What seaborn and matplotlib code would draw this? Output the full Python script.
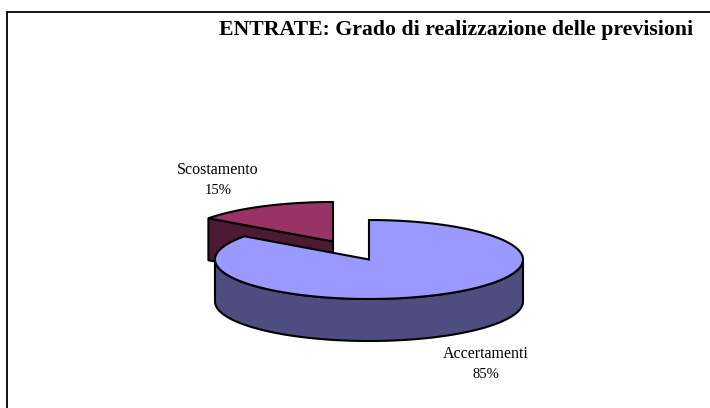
import numpy as np
import matplotlib
matplotlib.use("Agg")
import matplotlib.pyplot as plt
from matplotlib.patches import Polygon
import seaborn as sns

labels = ["Accertamenti", "Scostamento"]
shares = [85, 15]
title = "ENTRATE: Grado di realizzazione delle previsioni"

top_colors = ["#9999FF", "#993366"]
side_colors = ["#4D4D80", "#4D1A33"]

sns.set_style("white")
plt.rcParams["font.family"] = ["Liberation Serif", "DejaVu Serif"]

A, B, DEPTH = 154, 39.5, 42
CX, CY = 369, 259.5
OFFX, OFFY = -36, -18


def rim(t, cx, cy):
    # t in radians, clockwise from 12 o'clock
    return np.column_stack([cx + A * np.sin(t), cy - B * np.cos(t)])


fig = plt.figure(figsize=(7.10, 4.08), dpi=100)
ax = fig.add_axes([0, 0, 1, 1])
ax.set_xlim(0, 710)
ax.set_ylim(408, 0)
ax.axis("off")

split = 2 * np.pi * shares[0] / sum(shares)

# small slice, pulled out
sx, sy = CX + OFFX, CY + OFFY
t2 = np.linspace(split, 2 * np.pi, 80)
edge = rim(t2, sx, sy)
wall = np.array([edge[0], [sx, sy], [sx, sy + DEPTH], edge[0] + [0, DEPTH]])
ax.add_patch(Polygon(wall, fc=side_colors[1], ec="black", lw=1.5, joinstyle="round"))
ax.add_patch(Polygon(np.vstack([[[sx, sy]], edge]), fc=top_colors[1], ec="black", lw=1.5))

# big slice side wall, only the front half shows
t1 = np.linspace(np.pi / 2, 3 * np.pi / 2, 120)
front = rim(t1, CX, CY)
side = np.vstack([front, (front + [0, DEPTH])[::-1]])
ax.add_patch(Polygon(side, fc=side_colors[0], ec="black", lw=1.5))

t1 = np.linspace(0, split, 200)
ax.add_patch(Polygon(np.vstack([[[CX, CY]], rim(t1, CX, CY)]), fc=top_colors[0], ec="black", lw=1.5))

# frame, open on the right and at the bottom
ax.plot([7, 7, 710], [408, 11.5, 11.5], color="black", lw=1.3, solid_joinstyle="miter")

ax.text(456.5, 30, title, ha="center", va="center", fontsize=15.7, fontweight="bold", color="black")
ax.text(218, 170, labels[1], ha="center", va="center", fontsize=11.5, color="black")
ax.text(218, 190, f"{shares[1]}%", ha="center", va="center", fontsize=10.5, color="black")
ax.text(486, 354, labels[0], ha="center", va="center", fontsize=11.5, color="black")
ax.text(486, 374, f"{shares[0]}%", ha="center", va="center", fontsize=10.5, color="black")

fig.savefig("out.png", dpi=100)
